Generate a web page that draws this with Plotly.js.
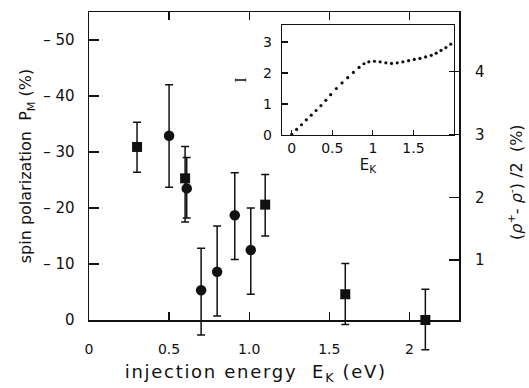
<!DOCTYPE html>
<html>
<head>
<meta charset="utf-8">
<script src="https://cdn.plot.ly/plotly-3.0.1.min.js"></script>
<style>
html,body{margin:0;padding:0;background:#fff;}
#plot{width:529px;height:388px;}
#plot .annotation[data-index="0"] .annotation-text{letter-spacing:1.7px;}
</style>
</head>
<body>
<div id="plot"></div>
<script>
// ---- data ----
// squares
var sqE = [0.30, 0.60, 1.10, 1.60, 2.10];
var sqP = [-30.9, -25.3, -20.6, -4.6, 0.0];
var sqErrTop = [4.4, 5.7, 5.4, 5.5, 5.5];
var sqErrBot = [4.5, 7.8, 5.6, 5.4, 5.3];
// circles
var ciE = [0.50, 0.61, 0.70, 0.80, 0.91, 1.01];
var ciP = [-32.9, -23.5, -5.3, -8.6, -18.7, -12.5];
var ciErrTop = [9.1, 5.5, 7.5, 8.2, 7.6, 7.5];
var ciErrBot = [9.2, 5.3, 8.0, 7.9, 7.9, 7.9];
// inset curve I(E_K)
var insE = [0, 0.06, 0.12, 0.18, 0.24, 0.30, 0.36, 0.42, 0.48, 0.55, 0.62, 0.69, 0.76, 0.83, 0.89, 0.95, 1.02, 1.09, 1.16, 1.23, 1.30, 1.37, 1.44, 1.51, 1.58, 1.65, 1.72, 1.78, 1.84, 1.90, 1.96];
var insI = [0.02, 0.18, 0.33, 0.49, 0.64, 0.79, 0.95, 1.12, 1.30, 1.50, 1.68, 1.85, 2.02, 2.18, 2.30, 2.36, 2.38, 2.36, 2.33, 2.31, 2.33, 2.36, 2.40, 2.44, 2.47, 2.52, 2.57, 2.64, 2.73, 2.82, 2.93];
// tick labels
var xTickVals = [0, 0.5, 1, 1.5, 2];
var xTickText = ["0", "0.5", "1.0", "1.5", "2"];
var yTickVals = [0, -10, -20, -30, -40, -50];
var yTickText = ["0", "\u2013 10", "\u2013 20", "\u2013 30", "\u2013 40", "\u2013 50"];
var y2TickVals = [1, 2, 3, 4];
var y2TickText = ["1", "2", "3", "4"];
var insXTickVals = [0, 0.5, 1, 1.5];
var insXTickText = ["0", "0.5", "1", "1.5"];
var insYTickVals = [0, 1, 2, 3];
var insYTickText = ["0", "1", "2", "3"];

var ink = '#111';
var font = 'DejaVu Sans, Liberation Sans, Arial, sans-serif';

// geometry helpers (pixels of the 529x388 page)
var plotTop = 12, plotBottom = 360, axisY = 320, plotLeft = 89, plotRight = 459;
var H = plotBottom - plotTop, W = plotRight - plotLeft;
function py(p) { return (plotBottom - p) / H; }
function px(p) { return (p - plotLeft) / W; }
var yMin = -55; // top of the main axis
var pxPerUnit = (axisY - plotTop) / 55;
var yExtend = (plotBottom - axisY) / pxPerUnit; // room under the axis for error bars

var traces = [
  {
    x: sqE, y: sqP, type: 'scatter', mode: 'markers', xaxis: 'x', yaxis: 'y4',
    marker: {symbol: 'square', size: 10, color: ink},
    error_y: {type: 'data', symmetric: false, array: sqErrBot, arrayminus: sqErrTop, color: ink, thickness: 1.5, width: 4},
    cliponaxis: false, showlegend: false, hoverinfo: 'x+y'
  },
  {
    x: ciE, y: ciP, type: 'scatter', mode: 'markers', xaxis: 'x', yaxis: 'y4',
    marker: {symbol: 'circle', size: 10.5, color: ink},
    error_y: {type: 'data', symmetric: false, array: ciErrBot, arrayminus: ciErrTop, color: ink, thickness: 1.5, width: 4},
    cliponaxis: false, showlegend: false, hoverinfo: 'x+y'
  },
  {
    x: [], y: [], type: 'scatter', mode: 'markers', xaxis: 'x', yaxis: 'y', showlegend: false, hoverinfo: 'skip'
  },
  {
    x: [], y: [], type: 'scatter', mode: 'markers', xaxis: 'x', yaxis: 'y2', showlegend: false, hoverinfo: 'skip'
  },
  {
    x: insE, y: insI, type: 'scatter', mode: 'markers', xaxis: 'x3', yaxis: 'y3',
    marker: {size: 3.2, color: ink}, cliponaxis: false, showlegend: false
  }
];

var layout = {
  width: 529, height: 388,
  margin: {l: plotLeft, r: 529 - plotRight, t: plotTop, b: 388 - plotBottom},
  paper_bgcolor: '#fff', plot_bgcolor: 'rgba(0,0,0,0)',
  font: {family: font, color: ink, size: 14},
  showlegend: false,
  xaxis: {
    domain: [0, 1], anchor: 'y', range: [0, 2.31], tickvals: xTickVals, ticktext: xTickText,
    ticks: 'inside', ticklen: 8, tickwidth: 1.3, tickcolor: ink,
    showline: true, linecolor: ink, linewidth: 1.5, mirror: 'ticks',
    showgrid: false, zeroline: false, ticklabelstandoff: 16,
    tickfont: {size: 14, family: font, color: ink}
  },
  yaxis: {
    domain: [py(axisY), 1], anchor: 'x', range: [0, yMin], tickvals: yTickVals, ticktext: yTickText,
    ticks: 'inside', ticklen: 10, tickwidth: 1.3, tickcolor: ink,
    showline: true, linecolor: ink, linewidth: 1.5, mirror: true,
    showgrid: false, zeroline: false, ticklabelstandoff: 10,
    tickfont: {size: 15, family: font, color: ink},
    title: {text: 'spin polarization  P<sub>M</sub> (%)', font: {size: 16, family: font, color: ink}, standoff: 7}
  },
  yaxis2: {
    overlaying: 'y', side: 'right', anchor: 'x', range: [0.046, 4.95],
    tickvals: y2TickVals, ticktext: y2TickText,
    ticks: 'inside', ticklen: 10, tickwidth: 1.3, tickcolor: ink,
    showline: false, showgrid: false, zeroline: false, ticklabelstandoff: 15,
    tickfont: {size: 15, family: font, color: ink}
  },
  yaxis4: {
    domain: [0, 1], anchor: 'x', range: [yExtend, yMin],
    showline: false, ticks: '', showticklabels: false, showgrid: false, zeroline: false
  },
  xaxis3: {
    domain: [px(282), px(454)], anchor: 'y3', range: [-0.12, 2.0],
    tickvals: insXTickVals, ticktext: insXTickText,
    ticks: 'inside', ticklen: 5, tickwidth: 1.2, tickcolor: ink,
    showline: true, linecolor: ink, linewidth: 1.3, mirror: true,
    showgrid: false, zeroline: false, ticklabelstandoff: 0,
    tickfont: {size: 14, family: font, color: ink},
    title: {text: 'E<sub>K</sub>', font: {size: 15, family: font, color: ink}, standoff: 0}
  },
  yaxis3: {
    domain: [py(135), py(25)], anchor: 'x3', range: [0, 3.55],
    tickvals: insYTickVals, ticktext: insYTickText,
    ticks: 'inside', ticklen: 6, tickwidth: 1.2, tickcolor: ink,
    showline: true, linecolor: ink, linewidth: 1.3, mirror: true,
    showgrid: false, zeroline: false, ticklabelstandoff: 6,
    tickfont: {size: 14, family: font, color: ink},
    title: {text: 'I', font: {size: 16, family: 'Liberation Serif, serif', color: ink}, standoff: 12}
  },
  annotations: [
    {text: 'injection energy  E<sub>K</sub> (eV)', xref: 'paper', yref: 'paper', x: px(256), y: py(373),
     xanchor: 'center', yanchor: 'middle', showarrow: false, font: {size: 18, family: font, color: ink}},
    {text: '(<i>ρ</i><sup>+</sup>- <i>ρ</i><sup>-</sup>) /2  (%)', xref: 'paper', yref: 'paper', x: px(515), y: py(182),
     xanchor: 'center', yanchor: 'middle', textangle: -90, showarrow: false, font: {size: 16, family: font, color: ink}}
  ]
};

Plotly.newPlot('plot', traces, layout, {staticPlot: true, displayModeBar: false});
</script>
</body>
</html>
